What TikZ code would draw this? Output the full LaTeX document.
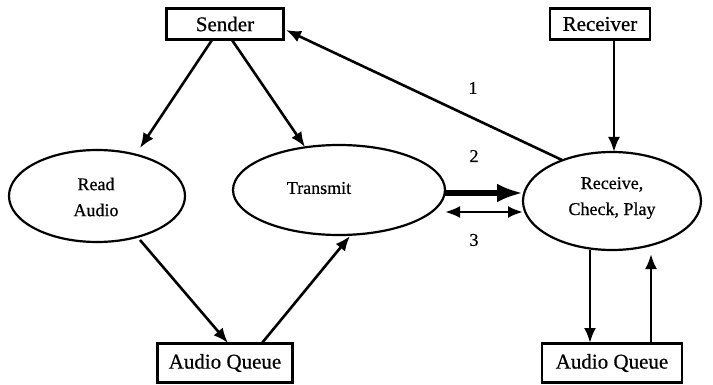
\documentclass[tikz,border=0pt]{standalone}
\usepackage{fontspec}
\setmainfont{Liberation Serif}
\newfontfamily\labelfont[FakeBold=0.6]{Liberation Serif}
\usetikzlibrary{arrows.meta,shapes.geometric}
\begin{document}
\begin{tikzpicture}[x=1pt,y=-1pt,
  every node/.style={font=\labelfont\fontsize{18}{21}\selectfont},
  boxnode/.style={draw,line width=2.2pt,minimum width=#1,minimum height=31pt,inner sep=0pt,
    font=\labelfont\fontsize{21}{24}\selectfont},
  procnode/.style={draw,ellipse,line width=2.2pt,inner sep=0pt},
  tag/.style={align=center},
  flow/.style={line width=2.6pt,-{Latex[length=15pt,width=12pt]}},
  bigflow/.style={line width=6.5pt,-{Latex[length=26pt,width=19pt]}}]
\useasboundingbox (0,0) rectangle (713,385);
% boxes
\node[boxnode=117pt] (sender) at (225,24) {Sender};
\node[boxnode=100pt] (receiver) at (600,24) {Receiver};
\node[boxnode=135pt,minimum height=39pt] (q1) at (225,363) {Audio Queue};
\node[boxnode=140pt,minimum height=39pt] (q2) at (612,363) {Audio Queue};
% processes
\node[procnode,minimum width=176pt,minimum height=92pt] (read) at (97,196) {};
\node[procnode,minimum width=212pt,minimum height=90pt] (tx) at (339,190) {};
\node[procnode,minimum width=178pt,minimum height=98pt] (rx) at (612,201) {};
\node[tag] (readtxt) at (96,197) {Read\\[5pt]Audio};
\node[tag] (txtxt) at (319,188) {Transmit};
\node[tag] (rxtxt) at (612,198) {Receive,\\[5pt]Check, Play};
% connectors
\coordinate (s1) at (212,40);   \coordinate (r1) at (140,148);
\coordinate (s2) at (232,40);   \coordinate (t1) at (305,147);
\coordinate (r2) at (140,240);  \coordinate (q1a) at (228,343);
\coordinate (q1b) at (262,343); \coordinate (t2) at (350,236);
\coordinate (x1) at (562,160);  \coordinate (s3) at (286,30);
\coordinate (v1) at (614,40);   \coordinate (x2) at (614,152);
\coordinate (t3) at (445,193);  \coordinate (x3) at (523,193);
\coordinate (t4) at (445,212);  \coordinate (x4) at (523,212);
\coordinate (x5) at (590,250);  \coordinate (q2a) at (590,343);
\coordinate (q2b) at (651,343); \coordinate (x6) at (651,254);
\draw[flow] (s1) -- (r1);
\draw[flow] (s2) -- (t1);
\draw[flow] (r2) -- (q1a);
\draw[flow] (q1b) -- (t2);
\draw[flow] (x1) -- (s3);
\draw[flow] (v1) -- (x2);
\draw[bigflow] (t3) -- (x3);
\draw[flow,{Latex[length=15pt,width=12pt]}-{Latex[length=15pt,width=12pt]}] (t4) -- (x4);
\draw[flow] (x5) -- (q2a);
\draw[flow] (q2b) -- (x6);
% labels
\node (l1) at (473,88) {1};
\node (l2) at (474,156) {2};
\node (l3) at (474,240) {3};
\end{tikzpicture}
\end{document}
